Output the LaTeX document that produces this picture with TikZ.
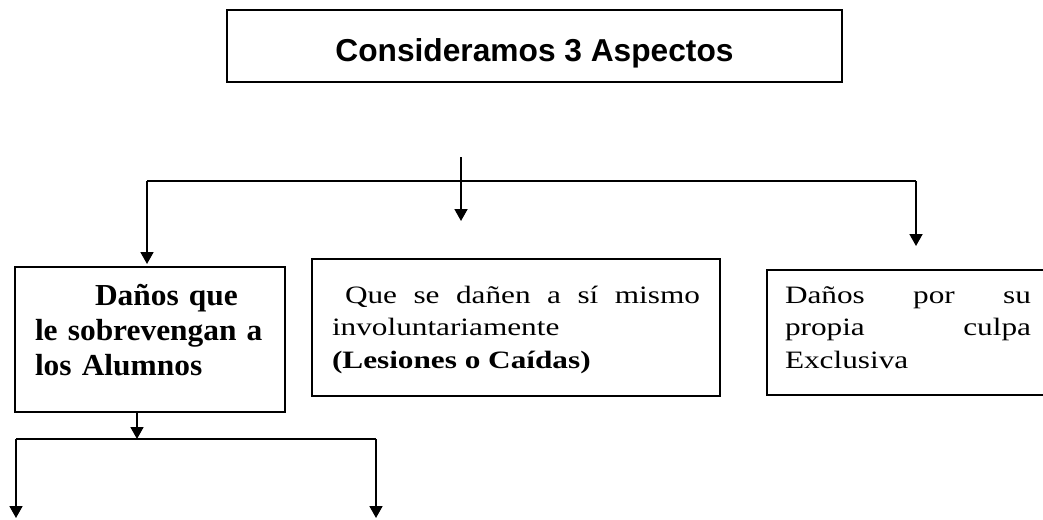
\documentclass[tikz,border=0pt]{standalone}
\usepackage{fontspec}
\setmainfont{Liberation Serif}
\newfontfamily\topfont{Liberation Sans}
\newfontfamily\wideserif[FakeStretch=1.25]{Liberation Serif}
\newfontfamily\boldserif[FakeStretch=1.03]{Liberation Serif}
\usetikzlibrary{arrows.meta}
\begin{document}
\begin{tikzpicture}[x=1pt,y=-1pt,
  boxst/.style={draw, rectangle, line width=1.8pt, inner ysep=0pt, outer sep=0pt},
  arr/.style={line width=1.8pt, -{Triangle[width=13pt,length=12pt]}},
  ln/.style={line width=1.8pt}]
\useasboundingbox (0,0) rectangle (1043,519);
\clip (0,0) rectangle (1043,519);

\node[boxst, anchor=base, minimum width=615pt, inner xsep=0pt,
  text height=51pt, text depth=21pt,
  font=\topfont\bfseries\fontsize{31.7}{36}\selectfont] (top) at (534.5,61) {Consideramos 3 Aspectos};

\node[boxst, anchor=base west, inner xsep=20pt, text width=230pt, align=left,
  text height=38pt, text depth=107pt,
  font=\boldserif\bfseries\fontsize{30.5}{35}\selectfont] (lbox) at (15,305)
  {\hspace*{60pt}Daños que\\le sobrevengan a\\los Alumnos};

\node[boxst, anchor=base west, inner xsep=20pt, text width=368pt, align=justify,
  text height=44pt, text depth=93pt,
  font=\wideserif\fontsize{25}{32.5}\selectfont] (mbox) at (312,303)
  {\hspace*{13pt}Que se dañen a sí mismo\linebreak involuntariamente\par\textbf{(Lesiones o Caídas)}};

\node[boxst, anchor=base west, inner xsep=18pt, text width=246pt, align=justify,
  text height=33pt, text depth=92pt,
  font=\wideserif\fontsize{25}{32.5}\selectfont] (rbox) at (767,303)
  {Daños por su\linebreak propia culpa\linebreak Exclusiva};

\coordinate (hL) at (147,181);
\coordinate (hR) at (916,181);
\coordinate (mS) at (461,157);
\coordinate (mE) at (461,221);
\draw[ln] (hL) -- (hR);
\draw[arr, shorten >=3pt] (hL) -- (hL |- lbox.north);
\draw[arr, shorten >=24pt] (hR) -- (hR |- rbox.north);
\draw[arr] (mS) -- (mE);

\coordinate (bL) at (16,439);
\coordinate (bR) at (376,439);
\coordinate (bM) at (137,439);
\coordinate (eL) at (16,518);
\coordinate (eR) at (376,518);
\draw[arr] (lbox.south -| bM) -- (bM);
\draw[ln] (bL) -- (bR);
\draw[arr] (bL) -- (eL);
\draw[arr] (bR) -- (eR);
\end{tikzpicture}
\end{document}
